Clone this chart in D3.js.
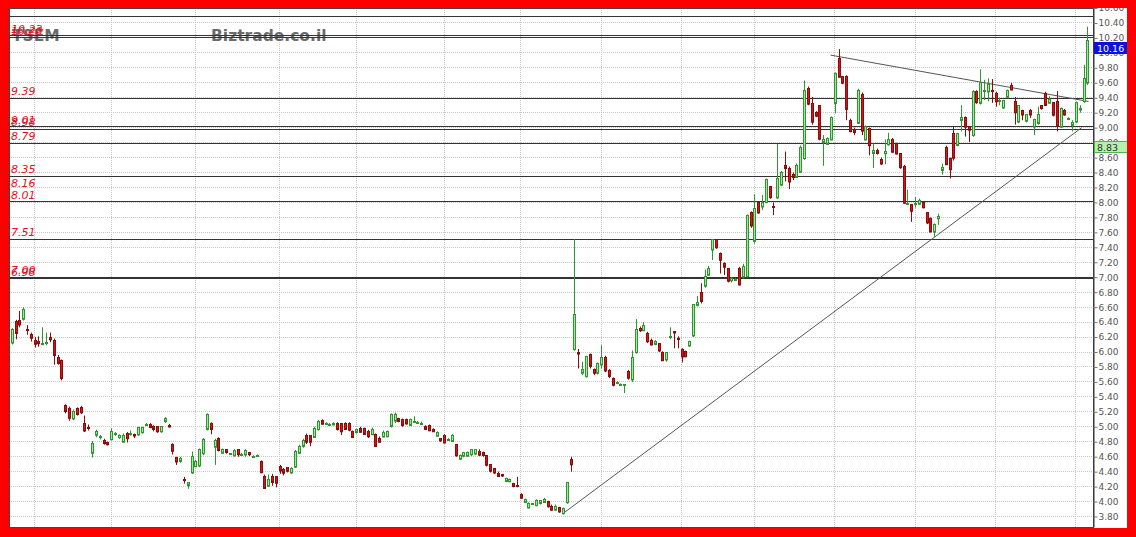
<!DOCTYPE html>
<html>
<head>
<meta charset="utf-8">
<script src="https://cdn.jsdelivr.net/npm/d3@7"></script>
<style>
  html, body { margin: 0; padding: 0; background: #fff; }
  svg { display: block; }
</style>
</head>
<body>
<svg id="chart" width="1136" height="537"></svg>
<script>
// ---- Data -------------------------------------------------------------
const symbol = "TSEM";
const siteName = "Biztrade.co.il";

// Daily OHLC, oldest first
const openPrices = [
  6.12, 6.41, 6.42, 6.44, 6.30, 6.23, 6.16, 6.14, 6.11, 6.12,
  6.19, 6.16, 5.93, 5.89, 5.29, 5.25, 5.11, 5.24, 5.26, 5.04,
  4.99, 4.65, 4.89, 4.86, 4.82, 4.79, 4.83, 4.90, 4.86, 4.80,
  4.91, 4.91, 4.90, 4.89, 4.92, 5.03, 5.03, 5.01, 5.00, 4.93,
  5.07, 5.02, 4.76, 4.59, 4.53, 4.29, 4.21, 4.38, 4.47, 4.47,
  4.64, 4.96, 5.04, 4.73, 4.85, 4.65, 4.69, 4.64, 4.61, 4.69,
  4.63, 4.62, 4.65, 4.60, 4.61, 4.54, 4.34, 4.21, 4.33, 4.33,
  4.47, 4.43, 4.45, 4.38, 4.46, 4.65, 4.74, 4.89, 4.88, 4.86,
  4.96, 5.09, 5.04, 5.03, 5.03, 5.05, 5.04, 5.05, 5.04, 4.94,
  4.92, 4.98, 4.98, 4.94, 4.90, 4.90, 4.85, 4.87, 4.87, 5.00,
  5.07, 5.11, 5.10, 5.10, 5.02, 5.07, 5.06, 5.05, 5.01, 5.02,
  4.97, 4.88, 4.84, 4.89, 4.83, 4.81, 4.76, 4.57, 4.60, 4.61,
  4.62, 4.63, 4.67, 4.65, 4.61, 4.49, 4.44, 4.38, 4.36, 4.27,
  4.27, 4.24, 4.21, 4.10, 3.99, 3.92, 3.97, 3.95, 3.97, 3.99,
  4.00, 3.94, 3.89, 3.92, 3.84, 3.98, 4.56, 6.03, 6.00, 5.71,
  5.67, 5.96, 5.76, 5.71, 5.82, 5.93, 5.75, 5.64, 5.59, 5.57,
  5.55, 5.74, 5.63, 5.99, 6.32, 6.29, 6.25, 6.16, 6.10, 6.11,
  6.00, 5.89, 6.20, 6.27, 6.18, 6.03, 6.01, 6.08, 6.21, 6.62,
  6.79, 6.88, 7.03, 7.36, 7.50, 7.32, 7.19, 7.11, 6.95, 6.97,
  7.12, 7.00, 7.01, 7.86, 7.48, 8.00, 7.94, 8.00, 8.21, 7.95,
  8.06, 8.23, 8.50, 8.46, 8.37, 8.34, 8.41, 8.59, 9.53, 9.32,
  9.20, 9.29, 8.80, 8.78, 8.84, 9.33, 9.93, 9.68, 9.68, 9.10,
  8.98, 9.06, 9.45, 8.84, 8.99, 8.65, 8.70, 8.57, 8.65, 8.77,
  8.84, 8.79, 8.65, 8.48, 7.99, 7.97, 7.98, 7.98, 8.00, 7.86,
  7.79, 7.60, 7.78, 8.43, 8.74, 8.59, 8.92, 8.76, 9.10, 9.14,
  9.01, 8.89, 9.48, 9.32, 9.50, 9.48, 9.50, 9.46, 9.36, 9.26,
  9.41, 9.57, 9.35, 9.07, 9.23, 9.08, 9.23, 9.01, 9.05, 9.29,
  9.46, 9.33, 9.33, 9.35, 9.01, 9.23, 9.12, 9.03, 9.07, 9.24,
  9.35, 9.59
];
const highPrices = [
  6.32, 6.43, 6.55, 6.60, 6.36, 6.26, 6.20, 6.21, 6.33, 6.26,
  6.26, 6.18, 5.96, 5.90, 5.30, 5.27, 5.23, 5.26, 5.28, 5.15,
  5.03, 4.81, 4.96, 4.89, 4.84, 4.80, 4.98, 4.93, 4.90, 4.91,
  4.93, 4.95, 4.91, 5.00, 5.00, 5.05, 5.05, 5.02, 5.01, 5.01,
  5.13, 5.04, 4.78, 4.60, 4.60, 4.33, 4.26, 4.67, 4.56, 4.71,
  4.85, 5.18, 5.06, 4.84, 4.86, 4.71, 4.70, 4.65, 4.70, 4.70,
  4.65, 4.70, 4.66, 4.62, 4.63, 4.55, 4.36, 4.36, 4.37, 4.34,
  4.49, 4.45, 4.46, 4.46, 4.69, 4.76, 4.84, 4.91, 4.89, 5.00,
  5.09, 5.10, 5.06, 5.05, 5.06, 5.06, 5.05, 5.06, 5.06, 4.95,
  4.97, 5.00, 4.99, 4.96, 4.99, 4.91, 4.87, 4.95, 4.95, 5.18,
  5.19, 5.12, 5.11, 5.11, 5.11, 5.14, 5.08, 5.07, 5.02, 5.03,
  4.98, 4.94, 4.85, 4.90, 4.85, 4.90, 4.77, 4.63, 4.66, 4.67,
  4.70, 4.70, 4.70, 4.67, 4.62, 4.50, 4.45, 4.40, 4.37, 4.32,
  4.31, 4.25, 4.33, 4.11, 4.04, 3.99, 3.98, 4.03, 4.02, 4.05,
  4.01, 3.96, 3.96, 3.93, 3.92, 4.26, 4.60, 7.51, 6.04, 5.87,
  5.95, 5.98, 5.78, 5.86, 6.09, 5.95, 5.77, 5.66, 5.61, 5.58,
  5.57, 5.76, 6.02, 6.44, 6.34, 6.40, 6.27, 6.18, 6.16, 6.12,
  6.01, 6.00, 6.33, 6.28, 6.21, 6.05, 6.02, 6.15, 6.64, 6.75,
  6.92, 7.10, 7.15, 7.51, 7.51, 7.33, 7.20, 7.12, 7.00, 6.99,
  7.14, 7.18, 7.84, 7.88, 8.11, 8.01, 8.10, 8.32, 8.22, 8.00,
  8.78, 8.42, 8.68, 8.48, 8.40, 8.52, 8.76, 9.63, 9.55, 9.41,
  9.22, 9.30, 8.90, 8.87, 9.15, 9.74, 10.05, 9.69, 9.70, 9.12,
  9.00, 9.52, 9.47, 9.03, 9.00, 8.79, 8.72, 8.60, 8.84, 8.93,
  8.86, 8.80, 8.66, 8.50, 8.17, 7.98, 8.07, 8.05, 8.01, 7.87,
  7.80, 7.72, 7.85, 8.52, 8.76, 8.60, 9.02, 8.93, 9.30, 9.15,
  9.02, 9.50, 9.50, 9.78, 9.64, 9.66, 9.65, 9.48, 9.40, 9.37,
  9.51, 9.60, 9.41, 9.30, 9.24, 9.18, 9.25, 9.12, 9.28, 9.30,
  9.48, 9.42, 9.34, 9.49, 9.27, 9.25, 9.14, 9.10, 9.35, 9.30,
  9.84, 10.35
];
const lowPrices = [
  6.10, 6.17, 6.33, 6.42, 6.23, 6.14, 6.06, 6.07, 6.09, 6.09,
  6.13, 5.83, 5.83, 5.62, 5.18, 5.08, 5.09, 5.15, 5.17, 4.93,
  4.95, 4.59, 4.86, 4.83, 4.76, 4.75, 4.82, 4.88, 4.84, 4.79,
  4.79, 4.88, 4.85, 4.88, 4.91, 5.01, 4.98, 4.94, 4.92, 4.92,
  5.05, 4.99, 4.63, 4.49, 4.52, 4.24, 4.17, 4.37, 4.46, 4.46,
  4.62, 4.95, 4.90, 4.49, 4.67, 4.64, 4.64, 4.63, 4.60, 4.60,
  4.61, 4.60, 4.61, 4.59, 4.60, 4.38, 4.17, 4.20, 4.21, 4.19,
  4.37, 4.35, 4.39, 4.37, 4.45, 4.64, 4.72, 4.77, 4.74, 4.85,
  4.95, 5.03, 5.03, 5.02, 5.02, 4.95, 4.89, 4.96, 4.94, 4.85,
  4.91, 4.92, 4.89, 4.85, 4.89, 4.73, 4.79, 4.86, 4.86, 4.99,
  5.05, 5.06, 5.00, 5.03, 5.01, 5.06, 5.05, 5.04, 4.96, 4.94,
  4.93, 4.87, 4.80, 4.78, 4.82, 4.80, 4.60, 4.56, 4.59, 4.60,
  4.61, 4.62, 4.61, 4.60, 4.47, 4.39, 4.37, 4.33, 4.33, 4.26,
  4.26, 4.19, 4.19, 4.04, 3.98, 3.91, 3.96, 3.94, 3.96, 3.98,
  3.92, 3.88, 3.88, 3.85, 3.83, 3.97, 4.40, 6.02, 5.78, 5.69,
  5.66, 5.78, 5.69, 5.70, 5.78, 5.73, 5.65, 5.54, 5.57, 5.55,
  5.45, 5.63, 5.60, 5.98, 6.27, 6.28, 6.12, 6.09, 6.09, 6.00,
  5.88, 5.87, 6.17, 6.05, 6.05, 5.86, 5.93, 6.07, 6.20, 6.61,
  6.65, 6.86, 7.02, 7.23, 7.38, 7.05, 7.03, 6.93, 6.93, 6.95,
  6.89, 6.98, 7.00, 7.66, 7.45, 7.85, 7.90, 7.99, 8.05, 7.83,
  8.05, 8.22, 8.28, 8.18, 8.30, 8.33, 8.40, 8.57, 9.30, 9.04,
  9.14, 8.83, 8.49, 8.77, 8.83, 9.19, 9.67, 9.58, 9.10, 8.94,
  8.90, 9.05, 8.90, 8.83, 8.63, 8.46, 8.64, 8.50, 8.51, 8.76,
  8.66, 8.64, 8.45, 7.98, 7.97, 7.74, 7.93, 7.97, 7.92, 7.71,
  7.60, 7.54, 7.70, 8.37, 8.50, 8.32, 8.56, 8.75, 8.95, 8.88,
  8.81, 8.88, 9.32, 9.31, 9.37, 9.35, 9.33, 9.28, 9.30, 9.25,
  9.40, 9.50, 9.04, 9.06, 9.10, 9.07, 9.13, 8.90, 9.04, 9.24,
  9.29, 9.32, 9.15, 8.95, 9.00, 9.16, 9.10, 8.95, 9.06, 9.20,
  9.33, 9.57
];
const closePrices = [
  6.30, 6.25, 6.36, 6.57, 6.29, 6.18, 6.11, 6.11, 6.12, 6.13,
  6.16, 5.96, 5.85, 5.65, 5.21, 5.12, 5.21, 5.16, 5.19, 4.94,
  4.98, 4.78, 4.94, 4.87, 4.78, 4.76, 4.94, 4.91, 4.89, 4.89,
  4.84, 4.91, 4.88, 4.99, 4.99, 5.03, 4.99, 4.97, 4.93, 5.00,
  5.11, 5.00, 4.67, 4.53, 4.57, 4.28, 4.25, 4.60, 4.54, 4.69,
  4.83, 5.16, 4.96, 4.82, 4.69, 4.70, 4.65, 4.64, 4.68, 4.62,
  4.63, 4.68, 4.62, 4.60, 4.62, 4.39, 4.18, 4.30, 4.25, 4.24,
  4.41, 4.38, 4.40, 4.44, 4.67, 4.74, 4.82, 4.80, 4.79, 4.98,
  5.07, 5.04, 5.05, 5.03, 5.05, 4.97, 4.93, 4.97, 4.95, 4.86,
  4.96, 4.93, 4.90, 4.87, 4.97, 4.74, 4.80, 4.93, 4.94, 5.16,
  5.16, 5.07, 5.02, 5.04, 5.10, 5.07, 5.06, 5.05, 4.97, 4.95,
  4.94, 4.93, 4.81, 4.79, 4.83, 4.89, 4.61, 4.62, 4.65, 4.66,
  4.69, 4.69, 4.62, 4.61, 4.48, 4.40, 4.38, 4.34, 4.34, 4.31,
  4.30, 4.20, 4.20, 4.05, 4.03, 3.98, 3.97, 4.02, 4.01, 4.03,
  3.93, 3.89, 3.94, 3.86, 3.91, 4.25, 4.49, 6.50, 5.98, 5.76,
  5.94, 5.80, 5.71, 5.84, 5.92, 5.75, 5.67, 5.55, 5.59, 5.57,
  5.56, 5.65, 5.93, 6.30, 6.29, 6.36, 6.14, 6.10, 6.14, 6.01,
  5.89, 5.99, 6.21, 6.25, 6.17, 5.93, 5.94, 6.14, 6.63, 6.66,
  6.67, 7.01, 7.12, 7.50, 7.39, 7.23, 7.14, 6.94, 6.98, 6.97,
  6.90, 7.14, 7.83, 7.68, 7.92, 7.86, 8.00, 8.31, 8.06, 7.94,
  8.32, 8.40, 8.46, 8.28, 8.33, 8.50, 8.74, 9.50, 9.32, 9.07,
  9.15, 8.84, 8.84, 8.86, 9.14, 9.73, 9.68, 9.59, 9.24, 8.95,
  8.94, 9.50, 8.96, 9.02, 8.76, 8.69, 8.66, 8.51, 8.68, 8.84,
  8.67, 8.65, 8.46, 7.99, 7.99, 7.88, 7.99, 8.03, 7.93, 7.72,
  7.61, 7.70, 7.81, 8.47, 8.51, 8.44, 8.59, 8.92, 9.14, 9.01,
  8.96, 9.48, 9.33, 9.60, 9.50, 9.58, 9.49, 9.35, 9.36, 9.36,
  9.50, 9.51, 9.20, 9.29, 9.17, 9.17, 9.17, 9.11, 9.17, 9.25,
  9.30, 9.38, 9.16, 9.02, 9.26, 9.17, 9.12, 9.07, 9.33, 9.26,
  9.66, 10.16
];

// Price axis ticks
const yTickValues = [
  3.8, 4.0, 4.2, 4.4, 4.6, 4.8, 5.0, 5.2, 5.4, 5.6, 5.8, 6.0, 6.2, 6.4, 6.6, 6.8,
  7.0, 7.2, 7.4, 7.6, 7.8, 8.0, 8.2, 8.4, 8.6, 8.8, 9.0, 9.2, 9.4, 9.6, 9.8, 10.0,
  10.2, 10.4, 10.6
];

// Bar index where each new month begins
const monthStarts = [6, 26, 48, 70, 90, 113, 133, 154, 175, 194, 215, 236, 257, 278];

// Support / resistance levels with their printed labels
const levelLabels = ["10.23", "10.20", "9.39", "9.01", "8.98", "8.79", "8.35", "8.16", "8.01", "7.51", "7.00", "6.98"];
const levelLines = [10.49, 10.23, 10.20, 9.39, 9.01, 8.98, 8.79, 8.35, 8.01, 7.51, 7.00, 6.98];

// Trend lines as [bar index, price] pairs
const supportTrend = [[144, 3.84], [279.5, 9.00]];
const resistanceTrend = [[213.9, 9.97], [281.3, 9.35]];

// Price flags on the axis
const lastPrice = 10.16;
const markerPrice = 8.83;

// ---- Layout -------------------------------------------------------------
const W = 1136, H = 537;
const plot = { left: 9, top: 8, right: 1093, bottom: 527 };

const svg = d3.select("#chart");
svg.append("rect").attr("width", W).attr("height", H).attr("fill", "#fff");

const n = closePrices.length;
const x = d3.scaleLinear().domain([0, n - 1]).range([11.7, 1087.4]);
const y = d3.scaleLinear().domain([3.66, 10.60]).range([plot.bottom, plot.top]);

const crisp = v => Math.round(v - 0.5) + 0.5;

// Grid
const grid = svg.append("g");
grid.selectAll("line.h").data(yTickValues).join("line")
  .attr("x1", plot.left).attr("x2", plot.right)
  .attr("y1", d => crisp(y(d))).attr("y2", d => crisp(y(d)))
  .attr("stroke", "#c9c9c9").attr("stroke-dasharray", "1,1");
grid.selectAll("line.v").data(monthStarts).join("line")
  .attr("x1", d => crisp(x(d))).attr("x2", d => crisp(x(d)))
  .attr("y1", plot.top).attr("y2", plot.bottom)
  .attr("stroke", "#c9c9c9").attr("stroke-dasharray", "1,1");

// Watermark / symbol
const titleFont = "'DejaVu Sans', Verdana, sans-serif";
svg.append("text").text(symbol)
  .attr("x", 12).attr("y", 41)
  .attr("font-family", titleFont).attr("font-weight", "bold").attr("font-size", 15.5)
  .attr("fill", "#6b6b6b");
svg.append("text").text(siteName)
  .attr("x", 211).attr("y", 41)
  .attr("font-family", titleFont).attr("font-weight", "bold").attr("font-size", 15.5)
  .attr("fill", "#6b6b6b");

// Level lines
svg.append("g").selectAll("line").data(levelLines).join("line")
  .attr("x1", plot.left).attr("x2", plot.right)
  .attr("y1", d => crisp(y(d))).attr("y2", d => crisp(y(d)))
  .attr("stroke", "#333").attr("stroke-width", 1);

// Level labels
svg.append("g").selectAll("text").data(levelLabels).join("text")
  .text(d => d)
  .attr("x", 11)
  .attr("y", d => y(+d) - 3)
  .attr("font-family", titleFont).attr("font-style", "italic").attr("font-size", 11)
  .attr("fill", "#e3121c");

// Trend lines
const trend = d3.line().x(d => x(d[0])).y(d => y(d[1]));
svg.append("path").attr("d", trend(supportTrend))
  .attr("fill", "none").attr("stroke", "#555").attr("stroke-width", 1);
svg.append("path").attr("d", trend(resistanceTrend))
  .attr("fill", "none").attr("stroke", "#555").attr("stroke-width", 1);

// Candles
const bars = d3.range(n).map(i => ({
  i, o: openPrices[i], h: highPrices[i], l: lowPrices[i], c: closePrices[i]
}));
const upEdge = "#2f962f", upFill = "#a4e8a0";
const dnEdge = "#8e0b0b", dnFill = "#d01818";

const cg = svg.append("g");
const candle = cg.selectAll("g").data(bars).join("g");
candle.append("line")
  .attr("x1", d => Math.round(x(d.i)) + 0.5).attr("x2", d => Math.round(x(d.i)) + 0.5)
  .attr("y1", d => y(d.h)).attr("y2", d => y(d.l))
  .attr("stroke", d => d.c >= d.o ? upEdge : dnEdge).attr("stroke-width", 1);
candle.append("rect")
  .attr("x", d => Math.round(x(d.i)) - 0.5)
  .attr("width", 2)
  .attr("y", d => crisp(Math.min(y(d.o), y(d.c))))
  .attr("height", d => Math.max(1, Math.abs(y(d.o) - y(d.c))))
  .attr("fill", d => d.c >= d.o ? upFill : dnFill)
  .attr("stroke", d => d.c >= d.o ? upEdge : dnEdge)
  .attr("stroke-width", 1);

// Plot frame
svg.append("rect")
  .attr("x", plot.left + 0.5).attr("y", plot.top + 0.5)
  .attr("width", plot.right - plot.left).attr("height", plot.bottom - plot.top)
  .attr("fill", "none").attr("stroke", "#444");

// Price axis on the right
const yAxis = d3.axisRight(y)
  .tickValues(yTickValues)
  .tickSize(4).tickSizeOuter(0).tickPadding(1)
  .tickFormat(d3.format(".2f"));
const ax = svg.append("g")
  .attr("transform", `translate(${plot.right + 0.5},0)`)
  .call(yAxis);
ax.select(".domain").attr("stroke", "#333");
ax.selectAll(".tick line").attr("stroke", "#777");
ax.selectAll(".tick text")
  .attr("font-family", titleFont).attr("font-size", 9).attr("fill", "#555");

// Price flags
function flag(value, fill, edge, textColor) {
  const g = svg.append("g");
  const top = y(value) + 1;
  g.append("rect")
    .attr("x", plot.right + 1.5).attr("y", Math.round(top) + 0.5)
    .attr("width", 33).attr("height", 11)
    .attr("fill", fill).attr("stroke", edge);
  g.append("text").text(value.toFixed(2))
    .attr("x", plot.right + 4).attr("y", Math.round(top) + 9.5)
    .attr("font-family", titleFont).attr("font-size", 9.5)
    .attr("fill", textColor);
}
flag(lastPrice, "#0a12dc", "#0a12dc", "#fff");
flag(markerPrice, "#b4f2aa", "#4fb34f", "#333");

// Red outer frame
const frame = svg.append("g").attr("fill", "#fe0000");
frame.append("rect").attr("x", 0).attr("y", 0).attr("width", W).attr("height", 8);
frame.append("rect").attr("x", 0).attr("y", 0).attr("width", 9).attr("height", H);
frame.append("rect").attr("x", 1127).attr("y", 0).attr("width", W - 1127).attr("height", H);
frame.append("rect").attr("x", 0).attr("y", 528).attr("width", W).attr("height", H - 528);
</script>
</body>
</html>
